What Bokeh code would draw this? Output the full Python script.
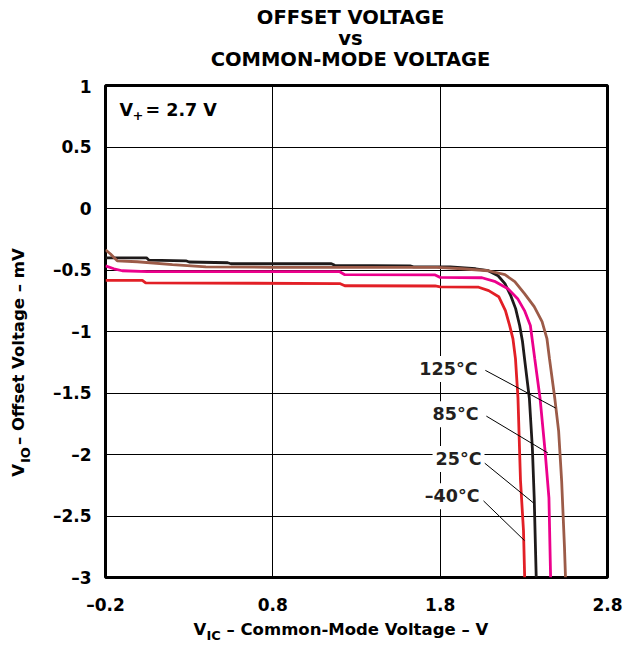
import math
from bokeh.plotting import figure
from bokeh.models import Range1d, FixedTicker, Label
from bokeh.layouts import column, row
from bokeh.embed import file_html
from bokeh.resources import INLINE

# ---------------- data ----------------
x_ticks = [-0.2, 0.8, 1.8, 2.8]
x_tick_labels = ["–0.2", "0.8", "1.8", "2.8"]
y_ticks = [-3, -2.5, -2, -1.5, -1, -0.5, 0, 0.5, 1]
y_tick_labels = ["–3", "–2.5", "–2", "–1.5", "–1", "–0.5", "0", "0.5", "1"]

# -40 C (red)
vic_m40 = [-0.2, 0.02, 0.04, 1.20, 1.23, 1.77, 1.80, 2.03, 2.09, 2.15, 2.19, 2.215,
           2.235, 2.25, 2.265, 2.28, 2.298, 2.305]
vio_m40 = [-0.585, -0.585, -0.605, -0.61, -0.628, -0.63, -0.638, -0.64, -0.668, -0.717,
           -0.83, -0.95, -1.06, -1.22, -1.54, -2.21, -2.62, -3.0]
# 25 C (black)
vic_25 = [-0.2, 0.045, 0.06, 0.28, 0.30, 0.53, 0.55, 1.15, 1.17, 1.62, 1.64, 1.86, 2.012,
          2.088, 2.146, 2.187, 2.222, 2.251, 2.275, 2.292, 2.304, 2.333, 2.351, 2.362, 2.374]
vio_25 = [-0.401, -0.401, -0.42, -0.425, -0.435, -0.441, -0.449, -0.449, -0.462, -0.466,
          -0.474, -0.474, -0.49, -0.506, -0.547, -0.611, -0.709, -0.814, -0.951, -1.081,
          -1.219, -1.543, -1.947, -2.352, -3.0]
# 85 C (magenta)
vic_85 = [-0.2, -0.15, -0.10, 0.05, 1.20, 1.23, 1.77, 1.80, 2.05, 2.13, 2.205, 2.263,
          2.304, 2.339, 2.365, 2.397, 2.427, 2.45, 2.46]
vio_85 = [-0.466, -0.49, -0.506, -0.514, -0.514, -0.538, -0.54, -0.56, -0.563, -0.595,
          -0.652, -0.733, -0.83, -0.951, -1.219, -1.543, -1.972, -2.352, -3.0]
# 125 C (brown)
vic_125 = [-0.2, -0.17, -0.13, -0.01, 0.2, 0.4, 0.8, 1.78, 1.93, 2.088, 2.187, 2.246,
           2.304, 2.362, 2.409, 2.438, 2.453, 2.485, 2.508, 2.526, 2.543, 2.549]
vio_125 = [-0.336, -0.37, -0.425, -0.433, -0.457, -0.474, -0.478, -0.478, -0.49, -0.506,
           -0.538, -0.595, -0.692, -0.798, -0.919, -1.057, -1.219, -1.543, -1.81, -2.215,
           -2.757, -3.0]

temp_labels = ["125°C", "85°C", "25°C", "–40°C"]
label_x = [2.041, 2.047, 2.065, 2.053]
label_y = [-1.304, -1.672, -2.036, -2.340]
leader_x0 = [2.07, 2.076, 2.065, 2.059]
leader_y0 = [-1.316, -1.688, -2.069, -2.377]
leader_x1 = [2.491, 2.444, 2.357, 2.304]
leader_y1 = [-1.623, -1.988, -2.393, -2.700]

# ---------------- layout ----------------
W, H = 623, 642
TOP_H = 76            # title strip
BOT_H = 24            # x-label strip
LEFT_W = 34           # y-label strip
MID_H = H - TOP_H - BOT_H
MAIN_W = W - LEFT_W
FL, FR, FT, FB = 105, 607, 85, 577     # frame in whole-canvas px
X0, X1, Y0, Y1 = -0.2, 2.8, -3.0, 1.0

FONT = "DejaVu Sans"


def blank(w, h):
    f = figure(width=w, height=h, output_backend="svg", toolbar_location=None,
               x_range=Range1d(0, w), y_range=Range1d(0, h),
               x_axis_location=None, y_axis_location=None, min_border=0)
    f.grid.visible = False
    f.outline_line_color = None
    f.background_fill_color = "white"
    f.border_fill_color = "white"
    return f


def put(f, x, y, text, size, align="left", angle=0.0):
    # x, y in the strip's own px, y measured from its top
    f.add_layout(Label(x=x, y=f.height - y, text=text, text_align=align,
                       text_baseline="middle", angle=angle,
                       text_font=FONT, text_font_style="bold", text_font_size=size,
                       text_color="black"))


# ---- title strip ----
top = blank(W, TOP_H)
put(top, 350, 17, "OFFSET VOLTAGE", "19.5px", "center")
put(top, 350, 38, "vs", "19.5px", "center")
put(top, 350, 59, "COMMON-MODE VOLTAGE", "19.5px", "center")

# ---- y-label strip ----
left = blank(LEFT_W, MID_H)
ang = math.pi / 2
put(left, 18, 431, "V", "16.5px", angle=ang)
put(left, 25, 416, "IO", "13px", angle=ang)
put(left, 18, 396, "– Offset Voltage – mV", "16.5px", angle=ang)

# ---- x-label strip ----
bot = blank(W, BOT_H)
put(bot, 193, 11, "V", "16.5px")
put(bot, 206, 17, "IC", "13px")
put(bot, 226, 11, "– Common-Mode Voltage – V", "16.5px")

# ---- main chart ----
p = figure(width=MAIN_W, height=MID_H, output_backend="svg", toolbar_location=None,
           x_range=Range1d(X0, X1), y_range=Range1d(Y0, Y1),
           min_border_left=FL - LEFT_W, min_border_right=W - FR,
           min_border_top=FT - TOP_H, min_border_bottom=TOP_H + MID_H - FB)
p.background_fill_color = "white"
p.border_fill_color = "white"
p.outline_line_color = "black"
p.outline_line_width = 3

for ax, ticks, labels in ((p.xaxis[0], x_ticks, x_tick_labels), (p.yaxis[0], y_ticks, y_tick_labels)):
    ax.ticker = FixedTicker(ticks=ticks)
    ax.major_label_overrides = {t: l for t, l in zip(ticks, labels)}
    ax.axis_line_color = None
    ax.major_tick_line_color = None
    ax.minor_tick_line_color = None
    ax.major_tick_out = 0
    ax.major_tick_in = 0
    ax.major_label_text_font = FONT
    ax.major_label_text_font_style = "bold"
    ax.major_label_text_font_size = "17px"
    ax.major_label_text_color = "black"
p.xaxis.major_label_standoff = 17
p.yaxis.major_label_standoff = 14

p.xgrid.grid_line_color = "black"
p.ygrid.grid_line_color = "black"
p.xgrid.grid_line_width = 1
p.ygrid.grid_line_width = 1

# curves
p.line(vic_m40, vio_m40, line_color="#E21F26", line_width=2.8)
p.line(vic_25, vio_25, line_color="#1E1A1A", line_width=2.8)
p.line(vic_85, vio_85, line_color="#EC008C", line_width=2.8)
p.line(vic_125, vio_125, line_color="#9C5B48", line_width=2.8)

# leader lines
p.segment(leader_x0, leader_y0, leader_x1, leader_y1, line_color="black", line_width=1)

for t, lx, ly in zip(temp_labels, label_x, label_y):
    p.add_layout(Label(x=lx, y=ly, text=t, text_align="right", text_baseline="middle",
                       text_font=FONT, text_font_style="bold", text_font_size="17.5px",
                       text_color="#231F20", background_fill_color="white", padding=3))

# V+ annotation (inside frame)
pxu = (FR - FL) / (X1 - X0)
pyu = (FB - FT) / (Y1 - Y0)
for txt, ox, oy, sz in (("V", 14, 24, "17.5px"), ("+", 27, 30, "13px"), ("= 2.7 V", 40, 24, "17.5px")):
    p.add_layout(Label(x=X0 + ox / pxu, y=Y1 - oy / pyu, text=txt, text_align="left",
                       text_baseline="middle", text_font=FONT, text_font_style="bold",
                       text_font_size=sz, text_color="black"))

layout = column(top, row(left, p, spacing=0), bot, spacing=0)
open("out.html", "w").write(file_html(layout, INLINE))
